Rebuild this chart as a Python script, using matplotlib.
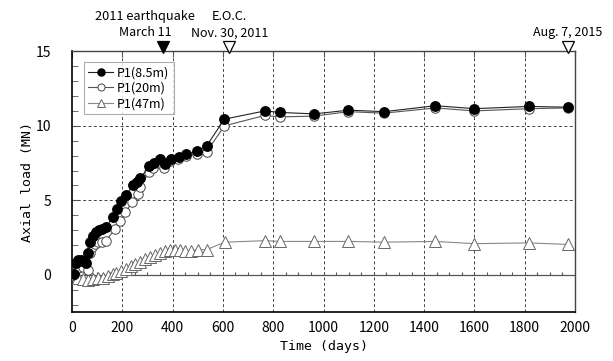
import matplotlib
matplotlib.use("Agg")
import matplotlib.pyplot as plt
import matplotlib.transforms as mtransforms
import numpy as np

plt.rcParams['font.family'] = ['Noto Sans CJK JP', 'DejaVu Sans']

# ---- data ----
days_85 = [8, 14, 24, 35, 45, 55, 62, 72, 82, 95, 107, 120, 135, 162, 178, 195, 215, 244,
           258, 272, 308, 325, 349, 369, 393, 426, 455, 497, 535, 606, 767, 827, 963,
           1099, 1241, 1445, 1599, 1817, 1971]
load_85 = [0.05, 0.8, 1.0, 1.0, 0.95, 0.8, 1.45, 2.2, 2.6, 2.85, 3.0, 3.1, 3.2, 3.9, 4.45,
           4.95, 5.35, 6.05, 6.25, 6.5, 7.3, 7.5, 7.75, 7.45, 7.75, 7.9, 8.1, 8.3, 8.65,
           10.45, 11.0, 10.9, 10.8, 11.05, 10.95, 11.35, 11.15, 11.3, 11.25]

days_20 = [5, 22, 45, 62, 72, 80, 92, 104, 118, 135, 172, 190, 212, 240, 262, 272, 305,
           320, 345, 366, 390, 422, 455, 495, 535, 606, 767, 827, 963, 1099, 1241, 1445,
           1599, 1817, 1971]
load_20 = [0.0, 0.45, 0.55, 0.35, 1.5, 1.85, 2.05, 2.2, 2.2, 2.3, 3.1, 3.6, 4.2, 4.9, 5.45,
           5.9, 6.9, 7.15, 7.5, 7.2, 7.65, 7.75, 7.95, 8.1, 8.25, 10.0, 10.7, 10.6, 10.65,
           10.95, 10.85, 11.2, 11.0, 11.15, 11.2]

days_47 = [4, 24, 43, 63, 83, 103, 123, 143, 163, 176, 196, 216, 236, 249, 269, 289, 309,
           329, 349, 369, 389, 409, 429, 448, 472, 501, 535, 608, 767, 827, 963, 1099,
           1241, 1445, 1599, 1817, 1971]
load_47 = [0.05, -0.2, -0.3, -0.35, -0.3, -0.2, -0.2, -0.1, 0.05, 0.15, 0.3, 0.4, 0.6, 0.75,
           0.85, 1.05, 1.2, 1.35, 1.5, 1.6, 1.65, 1.65, 1.65, 1.6, 1.6, 1.7, 1.7, 2.2, 2.3,
           2.25, 2.25, 2.25, 2.2, 2.25, 2.1, 2.15, 2.05]

event_days = [361, 625, 1971]
event_line1 = ["2011 earthquake", "E.O.C.", ""]
event_line2 = ["March 11", "Nov. 30, 2011", "Aug. 7, 2015"]
event_filled = [True, False, False]
event_text_shift_px = [-18, 0, 0]

x_ticks = list(range(0, 2001, 200))
y_ticks = [0, 5, 10, 15]

# ---- figure ----
fig = plt.figure(figsize=(6.13, 3.61), dpi=100)
ax = fig.add_axes([0.1175, 0.135, 0.8205, 0.723])

ax.set_xlim(0, 2000)
ax.set_ylim(-2.5, 15)

# grid
for xv in x_ticks[1:-1]:
    ax.axvline(xv, color='#444444', lw=0.7, ls=(0, (3, 2.5)), zorder=0)
for yv in [5, 10]:
    ax.axhline(yv, color='#444444', lw=0.7, ls=(0, (3, 2.5)), zorder=0)
ax.axhline(0, color='#555555', lw=0.9, zorder=1)
ax.vlines(np.arange(0, 2001, 50), 0, 0.22, color='#555555', lw=0.8, zorder=1)

ax.plot(days_47, load_47, color='#888888', lw=0.8, marker='^', ms=8,
        mfc='white', mec='#666666', mew=0.7, label='P1(47m)', zorder=3)
ax.plot(days_20, load_20, color='#555555', lw=0.8, marker='o', ms=6.8,
        mfc='white', mec='#444444', mew=0.7, label='P1(20m)', zorder=4)
ax.plot(days_85, load_85, color='#222222', lw=0.8, marker='o', ms=6.8,
        mfc='black', mec='black', label='P1(8.5m)', zorder=5)

handles, labels = ax.get_legend_handles_labels()
leg = ax.legend(handles[::-1], labels[::-1], loc='upper left', bbox_to_anchor=(0.024, 0.96),
                fontsize=9, frameon=True, fancybox=False, edgecolor='#999999',
                handlelength=2.0, handletextpad=0.3, borderpad=0.35, labelspacing=0.2,
                markerscale=0.75, borderaxespad=0.0)
leg.get_frame().set_linewidth(0.8)

ax.set_xticks(x_ticks)
ax.set_yticks(y_ticks)
ax.set_yticks(np.arange(-2, 16, 1), minor=True)
ax.tick_params(axis='x', which='both', bottom=False, top=True, direction='in',
               length=4, labelsize=10, pad=6, color='#555555')
ax.tick_params(axis='y', which='both', left=True, right=False, direction='in',
               length=4, labelsize=10, pad=15, color='#555555')
for s in ['left', 'bottom']:
    ax.spines[s].set_linewidth(1.2)
    ax.spines[s].set_color('black')
for s in ['top', 'right']:
    ax.spines[s].set_linewidth(1.0)
    ax.spines[s].set_color('#444444')

ax.set_xlabel('Time (days)', fontsize=9.5, family='DejaVu Sans Mono', labelpad=4)
ax.set_ylabel('Axial load (MN)', fontsize=9.5, family='DejaVu Sans Mono', labelpad=1)

# event markers on top
trans = mtransforms.blended_transform_factory(ax.transData, ax.transAxes)
for d, l1, l2, filled, sh in zip(event_days, event_line1, event_line2, event_filled,
                                 event_text_shift_px):
    ax.plot([d], [1.017], marker='v', ms=8, mfc='black' if filled else 'white',
            mec='black', mew=0.9, transform=trans, clip_on=False, zorder=6)
    ttrans = mtransforms.offset_copy(trans, fig=fig, x=sh, y=0, units='dots')
    ax.text(d, 1.07, l2, transform=ttrans, ha='center', va='center', fontsize=9)
    if l1:
        ax.text(d, 1.132, l1, transform=ttrans, ha='center', va='center', fontsize=9.2)

fig.savefig('out.png', dpi=100)
